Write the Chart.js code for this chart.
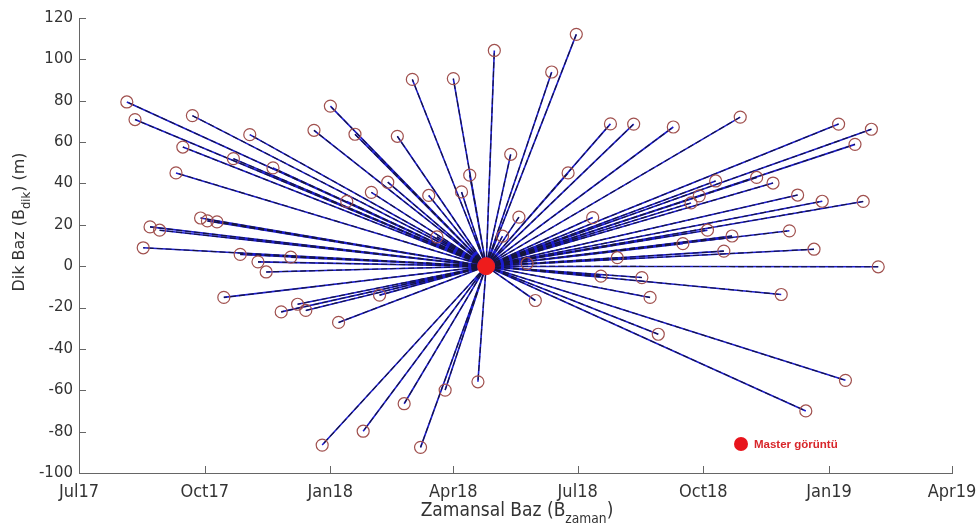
<!DOCTYPE html>
<html>
<head>
<meta charset="utf-8">
<script src="https://cdn.jsdelivr.net/npm/chart.js@4.4.1/dist/chart.umd.min.js"></script>
<style>
  body { margin: 0; background: #fff; }
</style>
</head>
<body>
<canvas id="baz-chart" width="977" height="528"></canvas>
<script>
// Master goruntu
const masterDate = '2018-04-25';
const masterBperp = 0;

// Slave goruntuler: tarih ve dik baz (m)
const slaveDates = [
  '2017-08-05', '2017-08-11', '2017-09-22', '2017-11-03', '2017-09-15', '2017-10-22',
  '2017-11-20', '2017-09-10', '2017-12-20', '2018-01-01', '2018-01-19', '2018-02-19',
  '2018-03-02', '2018-04-01', '2018-05-01', '2018-01-13', '2018-01-31', '2018-02-12',
  '2018-03-14', '2018-04-07', '2018-04-13', '2018-03-20', '2017-09-28', '2017-10-03',
  '2017-10-10', '2017-08-22', '2017-08-29', '2017-08-17', '2017-10-27', '2017-11-09',
  '2017-11-15', '2017-12-03', '2017-10-15', '2017-11-26', '2017-12-08', '2017-12-14',
  '2018-01-07', '2018-02-06', '2018-04-19', '2018-03-26', '2018-02-24', '2018-01-25',
  '2017-12-26', '2018-03-08', '2018-06-30', '2018-06-12', '2018-07-25', '2018-08-11',
  '2018-09-09', '2018-10-28', '2019-01-08', '2019-02-01', '2019-01-20', '2018-05-13',
  '2018-06-24', '2018-05-19', '2018-07-12', '2018-05-07', '2018-10-10', '2018-09-28',
  '2018-09-22', '2018-10-04', '2018-09-16', '2018-10-16', '2018-07-30', '2018-11-09',
  '2018-11-21', '2018-12-09', '2018-12-27', '2019-01-26', '2018-12-03', '2018-10-22',
  '2018-12-21', '2019-02-06', '2018-05-25', '2018-07-18', '2018-08-17', '2018-08-23',
  '2018-05-31', '2018-08-29', '2018-11-27', '2019-01-13', '2018-12-15'
];
const slaveBperp = [
  79.4, 70.9, 72.8, 63.6, 57.6, 52.0,
  47.5, 45.1, 65.7, 77.4, 63.8, 62.8,
  90.3, 90.7, 104.3, 31.3, 35.7, 40.6,
  34.2, 35.9, 44.0, 14.2, 23.3, 21.9,
  21.4, 19.0, 17.4, 8.9, 5.7, 2.1,
  -2.8, 4.4, -15.1, -22.1, -18.4, -21.4,
  -27.2, -14.0, -55.9, -59.9, -66.5, -79.8,
  -86.5, -87.6, 112.1, 93.9, 68.8, 68.7,
  67.3, 72.1, 68.7, 66.2, 58.9, 54.1,
  45.1, 23.7, 23.5, 14.5, 41.2, 34.0,
  30.6, 17.4, 10.9, 7.3, 4.1, 42.9,
  40.2, 34.4, 31.4, 31.3, 17.1, 14.6,
  8.2, -0.3, 1.3, -4.8, -5.5, -15.1,
  -16.6, -32.9, -13.7, -55.2, -70.0
];

const tickDates = ['2017-07-01', '2017-10-01', '2018-01-01', '2018-04-01',
                   '2018-07-01', '2018-10-01', '2019-01-01', '2019-04-01'];
const tickLabels = ['Jul17', 'Oct17', 'Jan18', 'Apr18', 'Jul18', 'Oct18', 'Jan19', 'Apr19'];

// gun sayisi (Jul17 baslangic)
function dayOf(s) {
  const p = s.split('-').map(Number);
  return (Date.UTC(p[0], p[1] - 1, p[2]) - Date.UTC(2017, 6, 1)) / 86400000;
}

const tickDays = tickDates.map(dayOf);
const master = { x: dayOf(masterDate), y: masterBperp };
const slaves = slaveDates.map((d, i) => ({ x: dayOf(d), y: slaveBperp[i] }));

// master -> slave cizgileri, aralarinda bosluk
const linkData = [];
slaves.forEach(p => {
  linkData.push(master, p, { x: p.x, y: null });
});

const condFont = '"DejaVu Sans Condensed", "Liberation Sans Narrow", "DejaVu Sans", sans-serif';
const normFont = '"DejaVu Sans", sans-serif';

// MATLAB gibi iceri bakan tick cizgileri
const innerTicks = {
  id: 'innerTicks',
  afterDraw(chart) {
    const { ctx, chartArea, scales } = chart;
    ctx.save();
    ctx.strokeStyle = '#666';
    ctx.lineWidth = 1;
    ctx.beginPath();
    scales.x.ticks.forEach(t => {
      const x = Math.round(scales.x.getPixelForValue(t.value)) + 0.5;
      ctx.moveTo(x, chartArea.bottom);
      ctx.lineTo(x, chartArea.bottom - 7);
    });
    scales.y.ticks.forEach(t => {
      const y = Math.round(scales.y.getPixelForValue(t.value)) + 0.5;
      ctx.moveTo(chartArea.left, y);
      ctx.lineTo(chartArea.left + 7, y);
    });
    ctx.stroke();
    ctx.restore();
  }
};

// alt indisli eksen basliklari
function drawSubText(ctx, parts, size, font) {
  let w = 0;
  parts.forEach(p => {
    ctx.font = (p.sub ? size * 0.72 : size) + 'px ' + font;
    w += ctx.measureText(p.t).width;
  });
  let x = -w / 2;
  parts.forEach(p => {
    ctx.font = (p.sub ? size * 0.72 : size) + 'px ' + font;
    ctx.fillText(p.t, x, p.sub ? size * 0.35 : 0);
    x += ctx.measureText(p.t).width;
  });
}

const axisTitles = {
  id: 'axisTitles',
  afterDraw(chart) {
    const { ctx } = chart;
    ctx.save();
    ctx.fillStyle = '#333';
    ctx.textBaseline = 'alphabetic';
    ctx.textAlign = 'left';
    ctx.translate(517, 516);
    drawSubText(ctx, [{ t: 'Zamansal Baz (B' }, { t: 'zaman', sub: true }, { t: ')' }], 19, condFont);
    ctx.restore();

    ctx.save();
    ctx.fillStyle = '#333';
    ctx.translate(24, 222);
    ctx.rotate(-Math.PI / 2);
    drawSubText(ctx, [{ t: 'Dik Baz (B' }, { t: 'dik', sub: true }, { t: ') (m)' }], 16, normFont);
    ctx.restore();
  }
};

const masterLegend = {
  id: 'masterLegend',
  afterDraw(chart) {
    const { ctx, chartArea } = chart;
    const x = chartArea.right - 211, y = chartArea.bottom - 29;
    ctx.save();
    ctx.fillStyle = '#e8141c';
    ctx.beginPath();
    ctx.arc(x, y, 7, 0, Math.PI * 2);
    ctx.fill();
    ctx.font = 'bold 11.5px "Liberation Sans", Arial, sans-serif';
    ctx.textBaseline = 'middle';
    ctx.fillStyle = '#d8262a';
    ctx.fillText('Master görüntü', x + 13, y + 1);
    ctx.restore();
  }
};

new Chart(document.getElementById('baz-chart'), {
  type: 'scatter',
  data: {
    datasets: [
      {
        label: 'Master görüntü',
        data: [master],
        pointRadius: 8.5,
        pointBackgroundColor: '#ee1c1c',
        pointBorderColor: '#ee1c1c',
        pointBorderWidth: 1,
        order: 0
      },
      {
        label: 'Slave',
        data: slaves,
        pointRadius: 6,
        pointBackgroundColor: 'rgba(0,0,0,0)',
        pointBorderColor: '#a0504e',
        pointBorderWidth: 1.2,
        order: 1
      },
      {
        label: 'baz-dash',
        data: linkData,
        showLine: true,
        spanGaps: false,
        borderColor: '#15153a',
        borderWidth: 1.1,
        borderDash: [6, 3],
        pointRadius: 0,
        order: 2
      },
      {
        label: 'baz',
        data: linkData,
        showLine: true,
        spanGaps: false,
        borderColor: '#1c1cd0',
        borderWidth: 1.6,
        pointRadius: 0,
        order: 3
      }
    ]
  },
  options: {
    responsive: false,
    animation: false,
    layout: { padding: { top: 18, right: 25, left: 0, bottom: 0 } },
    plugins: {
      legend: { display: false },
      tooltip: { enabled: false }
    },
    scales: {
      x: {
        type: 'linear',
        min: tickDays[0],
        max: tickDays[tickDays.length - 1],
        afterBuildTicks: s => { s.ticks = tickDays.map(v => ({ value: v })); },
        afterFit: s => { s.height = 55; s.paddingLeft = 0; s.paddingRight = 0; },
        grid: { display: false, drawTicks: false },
        border: { color: '#666', width: 1 },
        ticks: {
          autoSkip: false,
          maxRotation: 0,
          padding: 9,
          color: '#333',
          font: { family: condFont, size: 18 },
          callback: v => tickLabels[tickDays.indexOf(v)]
        }
      },
      y: {
        min: -100,
        max: 120,
        afterFit: s => { s.width = 79; },
        grid: { display: false, drawTicks: false },
        border: { color: '#666', width: 1 },
        ticks: {
          stepSize: 20,
          padding: 6,
          color: '#333',
          font: { family: normFont, size: 15 }
        }
      }
    }
  },
  plugins: [innerTicks, axisTitles, masterLegend]
});
</script>
</body>
</html>
